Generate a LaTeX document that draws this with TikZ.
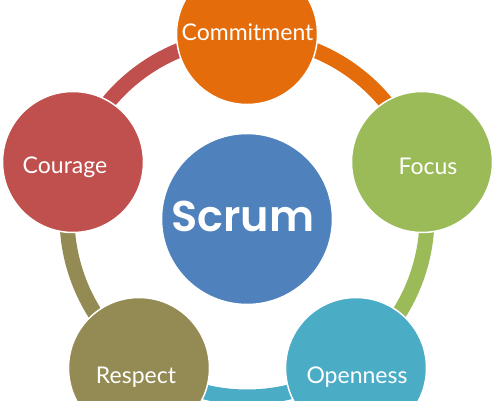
\documentclass[tikz,border=0pt]{standalone}
\usepackage{fontspec}
\setmainfont{Lato}
\newfontfamily\scrumfont{Poppins SemiBold}
\definecolor{commitcol}{HTML}{E46C0A}
\definecolor{focuscol}{HTML}{9BBB59}
\definecolor{opencol}{HTML}{4BACC6}
\definecolor{respectcol}{HTML}{948A54}
\definecolor{couragecol}{HTML}{C0504D}
\definecolor{scrumcol}{HTML}{4F81BD}
\tikzset{
  bubble/.style={circle, draw=white, line width=1.5pt, minimum size=141pt, inner sep=0pt},
  hub/.style={circle, draw=white, line width=1.5pt, minimum size=171pt, inner sep=0pt},
  ringarc/.style={line width=15pt},
  lbl/.style={text=white, anchor=base, inner sep=0pt, font=\fontsize{23}{27}\selectfont},
  hublbl/.style={text=white, anchor=base, inner sep=0pt, font=\scrumfont\fontsize{43}{50}\selectfont}
}
\begin{document}
\begin{tikzpicture}[x=1pt,y=1pt]
\useasboundingbox (0,0) rectangle (495,400);
\clip (0,0) rectangle (495,400);
\coordinate (ringc) at (247,183);
% ring arcs
\draw[ringarc, commitcol] (ringc) ++(90:180) arc[start angle=90, end angle=18, radius=180];
\draw[ringarc, focuscol] (ringc) ++(18:180) arc[start angle=18, end angle=-54, radius=180];
\draw[ringarc, opencol] (ringc) ++(-54:180) arc[start angle=-54, end angle=-126, radius=180];
\draw[ringarc, respectcol] (ringc) ++(-126:180) arc[start angle=-126, end angle=-198, radius=180];
\draw[ringarc, couragecol] (ringc) ++(162:180) arc[start angle=162, end angle=90, radius=180];
% circles
\node[hub, fill=scrumcol] (scrum) at (247,181) {};
\node[bubble, fill=commitcol] (commit) at (247,366) {};
\node[bubble, fill=focuscol] (focus) at (422,238) {};
\node[bubble, fill=opencol] (open) at (356,32) {};
\node[bubble, fill=respectcol] (respect) at (139,32) {};
\node[bubble, fill=couragecol] (courage) at (73,238) {};
% labels
\node[hublbl] (scrumlbl) at (243,169) {Scrum};
\node[lbl] (commitlbl) at (247.5,359.3) {Commitment};
\node[lbl] (focuslbl) at (428,226) {Focus};
\node[lbl] (couragelbl) at (65,227) {Courage};
\node[lbl] (respectlbl) at (136,17) {Respect};
\node[lbl] (openlbl) at (357,17) {Openness};
\end{tikzpicture}
\end{document}
